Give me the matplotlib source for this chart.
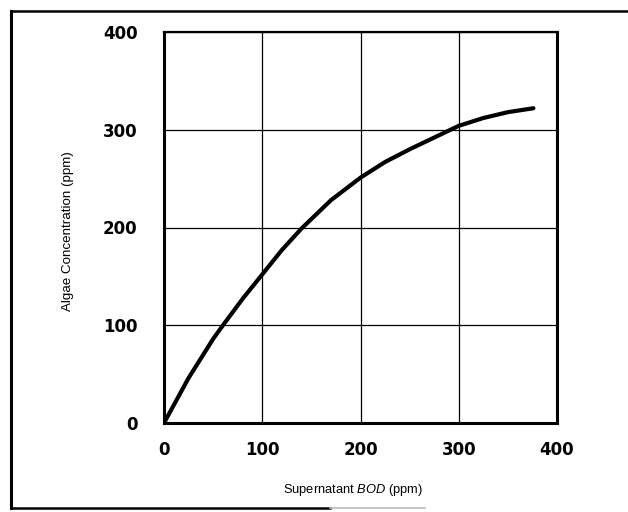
import matplotlib
matplotlib.use("Agg")
import matplotlib.pyplot as plt
from matplotlib.lines import Line2D

# values
bod = [0, 25, 50, 60, 80, 100, 120, 140, 170, 200, 225, 250, 275, 300, 325, 350, 376]
algae = [0, 46, 86, 100, 127, 152, 177, 199, 228, 251, 267, 280, 292, 304, 312, 318, 322]

ticks = [0, 100, 200, 300, 400]

plt.rcParams['font.family'] = ['Liberation Sans', 'DejaVu Sans']
plt.rcParams['mathtext.fontset'] = 'custom'
plt.rcParams['mathtext.it'] = 'Liberation Sans:italic'
plt.rcParams['mathtext.rm'] = 'Liberation Sans'

fig = plt.figure(figsize=(6.28, 5.12), dpi=100)
ax = fig.add_axes([164 / 628, 1 - 423 / 512, 393 / 628, 391 / 512])

ax.plot(bod, algae, color='black', lw=3.0, solid_capstyle='round',
        solid_joinstyle='round', zorder=3)

ax.set_xlim(0, 400)
ax.set_ylim(0, 400)
ax.set_xticks(ticks)
ax.set_yticks(ticks)
ax.grid(True, color='black', lw=0.9)
ax.tick_params(length=0)
ax.tick_params(axis='y', pad=19)
ax.tick_params(axis='x', pad=13)
for lab in ax.get_xticklabels() + ax.get_yticklabels():
    lab.set_fontfamily('DejaVu Sans')
    lab.set_fontweight('bold')
    lab.set_fontsize(12)

for side in ['left', 'right', 'bottom']:
    ax.spines[side].set_linewidth(2.2)
ax.spines['top'].set_linewidth(1.6)

ax.text(-0.244, 0.49, 'Algae Concentration (ppm)', transform=ax.transAxes,
        rotation=90, ha='center', va='center', fontsize=9.6)
ax.text(0.48, -0.171, 'Supernatant $BOD$ (ppm)', transform=ax.transAxes,
        ha='center', va='center', fontsize=9.3)

# outer frame of the scanned figure
fig.add_artist(Line2D([11 / 628, 11 / 628], [1 - 11 / 512, 1 - 508 / 512],
                      transform=fig.transFigure, color='black', lw=2.2))
fig.add_artist(Line2D([11 / 628, 1], [1 - 11 / 512, 1 - 11 / 512],
                      transform=fig.transFigure, color='black', lw=1.8))
fig.add_artist(Line2D([11 / 628, 330 / 628], [1 - 508 / 512, 1 - 508 / 512],
                      transform=fig.transFigure, color='black', lw=1.8))
fig.add_artist(Line2D([330 / 628, 425 / 628], [1 - 508 / 512, 1 - 508 / 512],
                      transform=fig.transFigure, color='#bbbbbb', lw=1.2))

fig.savefig('out.png', dpi=100)
